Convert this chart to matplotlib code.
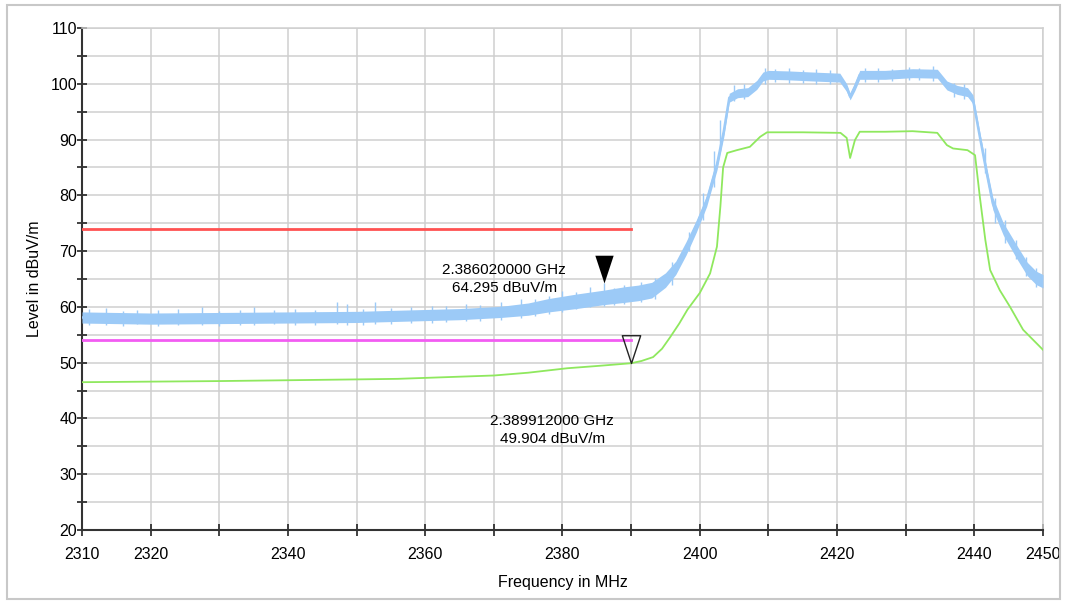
import numpy as np
import matplotlib.pyplot as plt
from matplotlib.path import Path
from matplotlib.patches import Rectangle
from matplotlib.ticker import MultipleLocator, FixedLocator, FixedFormatter

plt.rcParams['font.family'] = ['Liberation Sans', 'DejaVu Sans']

# peak trace (blue): centre of noise band and its half width
blue_freq = [2310, 2320, 2330, 2340, 2350, 2356, 2365, 2371, 2375, 2378, 2382, 2386, 2389,
             2391, 2393, 2395, 2396.5, 2398, 2399.5, 2401, 2402.5, 2403.5, 2404.3, 2405.5,
             2407, 2408.3, 2409.2, 2410, 2413, 2416.5, 2420.4, 2421.4, 2421.9, 2422.6, 2423.3,
             2427, 2431, 2434.6, 2436, 2437.5, 2439, 2439.8, 2440.8, 2441.8, 2442.7, 2444.2,
             2446.2, 2447.7, 2449, 2450]
blue_mid = [58.1, 57.9, 58.0, 58.1, 58.2, 58.4, 58.7, 59.1, 59.6, 60.3, 61.0, 61.7, 62.2,
            62.5, 63.0, 64.8, 67.0, 70.5, 74.5, 79.0, 85.5, 91.5, 97.5, 98.3,
            98.5, 99.8, 101.3, 101.6, 101.5, 101.3, 101.1, 99.3, 97.7, 99.5, 101.6,
            101.6, 101.9, 101.8, 99.7, 98.9, 98.5, 97.2, 90.5, 84.0, 78.5, 74.0,
            69.8, 66.8, 65.2, 64.6]
blue_spread = [1.0, 1.0, 1.0, 1.0, 1.0, 1.0, 1.0, 1.0, 1.1, 1.2, 1.3, 1.3, 1.4,
               1.4, 1.4, 1.3, 1.2, 1.2, 1.1, 1.0, 1.0, 1.0, 0.8, 0.8,
               0.8, 0.8, 0.8, 0.8, 0.8, 0.8, 0.8, 0.7, 0.6, 0.7, 0.8,
               0.8, 0.8, 0.8, 0.8, 0.8, 0.8, 0.8, 0.8, 1.0, 1.1, 1.1,
               1.2, 1.2, 1.2, 1.2]

# noise spikes of the blue trace (frequency, lowest, highest)
spike_freq = [2311, 2313.5, 2316, 2318, 2321, 2324, 2327.5, 2330, 2333, 2335, 2338, 2341,
              2344, 2347.2, 2348.6, 2351, 2352.7, 2355, 2358, 2361, 2363, 2366, 2368, 2371,
              2374, 2376, 2378, 2380, 2382, 2384, 2386.02, 2387.5, 2389, 2391.5, 2393.5,
              2396, 2398.5, 2400.5, 2402, 2403,
              2405, 2406.5, 2409.5, 2411, 2413, 2415, 2417, 2419, 2424, 2426, 2428, 2430.5,
              2432, 2434, 2437, 2438.5,
              2441.5, 2443, 2444.5, 2446, 2447.5, 2449]
spike_low = [56.7, 56.8, 56.6, 56.9, 56.5, 56.8, 56.7, 56.6, 56.8, 56.7, 56.9, 56.7,
             56.8, 56.9, 56.8, 56.8, 57.0, 57.0, 57.1, 57.2, 57.3, 57.4, 57.5, 57.7,
             58.0, 58.3, 58.8, 59.1, 59.6, 59.9, 60.2, 60.4, 60.6, 60.8, 61.4,
             64.0, 70.0, 75.5, 81.5, 88.0,
             97.0, 97.2, 100.0, 100.3, 100.2, 100.1, 100.0, 99.9, 100.3, 100.4, 100.5, 100.6,
             100.6, 100.5, 97.6, 97.3,
             84.0, 75.0, 71.5, 68.5, 65.5, 63.5]
spike_high = [59.6, 59.8, 59.3, 59.5, 59.4, 59.6, 60.0, 59.3, 59.5, 59.9, 59.4, 59.6,
              59.5, 60.9, 60.6, 59.7, 60.8, 59.8, 60.0, 60.2, 60.1, 60.6, 60.4, 60.9,
              61.5, 61.4, 62.0, 62.8, 62.6, 63.5, 64.295, 63.4, 64.0, 64.5, 65.2,
              68.0, 73.5, 80.5, 88.0, 93.5,
              99.8, 99.9, 102.8, 102.6, 102.9, 102.5, 102.7, 102.4, 102.8, 102.9, 102.7, 103.0,
              102.8, 103.1, 100.2, 100.0,
              88.5, 79.5, 75.5, 72.0, 69.0, 67.0]

# average trace (green)
green_freq = [2310, 2330, 2350, 2356, 2370, 2375, 2380.7, 2385, 2388, 2390, 2391.5, 2393.2,
              2394.5, 2395.7, 2397, 2398.2, 2400, 2401.5, 2402.5, 2403, 2403.4, 2404, 2405.4,
              2407.3, 2408.8, 2409.8, 2415, 2420.5, 2421.4, 2421.9, 2422.6, 2423.3, 2427,
              2431, 2434.6, 2436, 2436.9, 2439, 2440.1, 2440.8, 2441.6, 2442.3, 2443.7,
              2445.2, 2447.1, 2449.6, 2450]
green_val = [46.5, 46.7, 47.0, 47.1, 47.7, 48.2, 49.0, 49.4, 49.7, 49.9, 50.3, 51.0,
             52.5, 54.6, 57.0, 59.5, 62.5, 66.0, 70.8, 78.0, 85.0, 87.6, 88.1,
             88.7, 90.5, 91.3, 91.3, 91.2, 90.3, 86.7, 89.9, 91.4, 91.4,
             91.5, 91.2, 89.0, 88.4, 88.1, 87.2, 79.7, 72.0, 66.6, 63.0,
             60.0, 55.9, 52.8, 52.3]

# limit lines
limit_f = [2310, 2390]
peak_limit = 74
avg_limit = 54

# markers
m1_f, m1_v = 2386.02, 64.295
m2_f, m2_v = 2389.912, 49.904

x_ticks = [2310, 2320, 2330, 2340, 2350, 2360, 2370, 2380, 2390, 2400, 2410, 2420, 2430, 2440, 2450]
x_labels = ['2310', '2320', '', '2340', '', '2360', '', '2380', '', '2400', '', '2420', '', '2440', '2450']

fig = plt.figure(figsize=(10.65, 6.01), dpi=100)
ax = fig.add_axes([82 / 1065, 1 - 530 / 601, (1043 - 82) / 1065, (530 - 28) / 601])

# outer frame of the screenshot
fig.patches.append(Rectangle((7 / 1065, 2 / 601), 1053 / 1065, 594 / 601, transform=fig.transFigure,
                             fill=False, edgecolor='#c8c8c8', linewidth=1.5))

blue = '#9ccaf7'
bm = np.array(blue_mid)
bs = np.array(blue_spread)
ax.fill_between(blue_freq, bm - bs, bm + bs, color=blue, linewidth=0, zorder=3)
ax.plot(blue_freq, blue_mid, color=blue, lw=1.8, zorder=3)
ax.vlines(spike_freq, spike_low, spike_high, color=blue, lw=1.0, zorder=3)

ax.plot(green_freq, green_val, color='#8fe85e', lw=1.3, zorder=4)

ax.plot(limit_f, [peak_limit, peak_limit], color='#ff5252', lw=2, zorder=4)
ax.plot(limit_f, [avg_limit, avg_limit], color='#f25cf2', lw=2, zorder=4)

tri = Path([(-0.33, 1.0), (0.33, 1.0), (0.0, 0.0), (-0.33, 1.0)],
           [Path.MOVETO, Path.LINETO, Path.LINETO, Path.CLOSEPOLY])
ax.plot([m1_f], [m1_v], marker=tri, markersize=40, color='black', markeredgewidth=0, zorder=6)
ax.plot([m2_f], [m2_v], marker=tri, markersize=40, markerfacecolor='none',
        markeredgecolor='#222222', markeredgewidth=1.0, zorder=6)

ax.text(2371.5, 65.0, '2.386020000 GHz\n64.295 dBuV/m', ha='center', va='center',
        fontsize=11, linespacing=1.35, zorder=7)
ax.text(2378.5, 38.0, '2.389912000 GHz\n49.904 dBuV/m', ha='center', va='center',
        fontsize=11, linespacing=1.35, zorder=7)

ax.set_xlim(2310, 2450)
ax.set_ylim(20, 110)
ax.xaxis.set_major_locator(FixedLocator(x_ticks))
ax.xaxis.set_major_formatter(FixedFormatter(x_labels))
ax.yaxis.set_major_locator(MultipleLocator(10))
ax.yaxis.set_minor_locator(MultipleLocator(5))

ax.grid(True, which='both', color='#cfcfcf', lw=1.1, zorder=0)
ax.set_axisbelow(True)
ax.tick_params(axis='both', which='both', direction='inout', color='#222222', labelsize=11.5)
ax.tick_params(axis='y', which='major', length=7, width=1.2, pad=0)
ax.tick_params(axis='y', which='minor', length=7, width=1.2)
ax.tick_params(axis='x', which='major', length=9, width=1.2, pad=8)

for side in ['left', 'bottom']:
    ax.spines[side].set_color('#333333')
    ax.spines[side].set_linewidth(1.5)
for side in ['top', 'right']:
    ax.spines[side].set_color('#cfcfcf')
    ax.spines[side].set_linewidth(1.1)

ax.set_xlabel('Frequency in MHz', fontsize=11.5, labelpad=9)
ax.set_ylabel('Level in dBuV/m', fontsize=11.5, labelpad=6)

fig.savefig('out.png', dpi=100)
